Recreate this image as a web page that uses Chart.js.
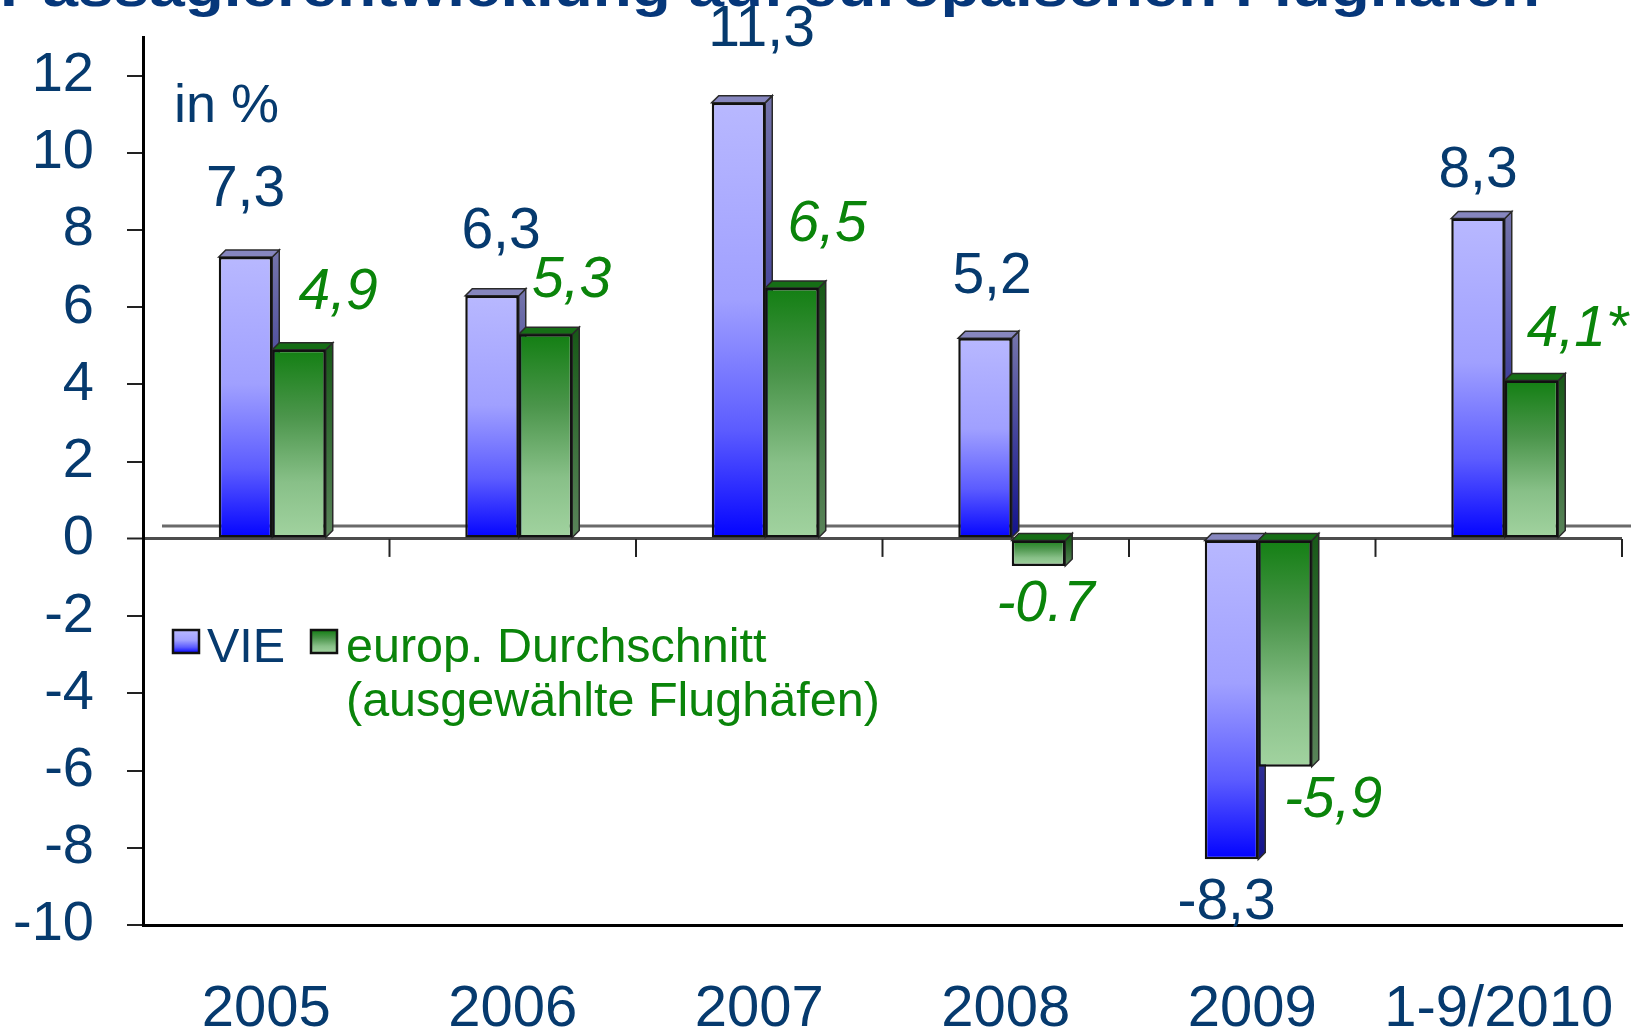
<!DOCTYPE html>
<html>
<head>
<meta charset="utf-8">
<script src="https://cdn.jsdelivr.net/npm/chart.js@4.4.1/dist/chart.umd.min.js"></script>
<style>
  html, body { margin: 0; padding: 0; background: #fff; }
  #wrap { width: 1631px; height: 1032px; position: relative; }
</style>
</head>
<body>
<div id="wrap"><canvas id="paxChart"></canvas></div>
<script>
// values
const categories = ['2005', '2006', '2007', '2008', '2009', '1-9/2010'];
const vieValues = [7.3, 6.3, 11.3, 5.2, -8.3, 8.3];
const europValues = [4.9, 5.3, 6.5, -0.7, -5.9, 4.1];
const vieLabels = ['7,3', '6,3', '11,3', '5,2', '-8,3', '8,3'];
const europLabels = ['4,9', '5,3', '6,5', '-0.7', '-5,9', '4,1*'];
const yTickValues = [-10, -8, -6, -4, -2, 0, 2, 4, 6, 8, 10, 12];
const seriesNames = ['VIE', 'europ. Durchschnitt', '(ausgewählte Flughäfen)'];
const titleText = 'Passagierentwicklung auf europäischen Flughäfen';
const unitText = 'in %';

// hand placement of the value labels, relative to the bar end
const vieNudge = [[6, -67], [15, -63], [29, -72], [13, -61], [1, 44], [6, -47]];
const europNudge = [[45, -57], [32, -53], [41, -63], [13, 39], [54, 34], [52, -50]];

const NAVY = '#063a6e';
const GREEN = '#0a840a';
const FONT = '"Liberation Sans", Arial, sans-serif';
const DEPTH = 7;
const SHIFT = 6; // bars sit a bit right of the category centre (3D projection)

const vieStops = [[0, '#b8b8ff'], [0.45, '#a0a0ff'], [0.75, '#5c5cff'], [1, '#0202ff']];
const vieSideStops = [[0, '#7272aa'], [1, '#12128c']];
const europStops = [[0, '#137f13'], [0.35, '#4b954b'], [0.7, '#88c088'], [1, '#a2d3a0']];
const europSideStops = [[0, '#195a19'], [1, '#5a845a']];

function linGrad(ctx, y1, y2, stops) {
  const g = ctx.createLinearGradient(0, y1, 0, y2);
  stops.forEach(s => g.addColorStop(s[0], s[1]));
  return g;
}

function frontFill(stops) {
  return function(c) {
    const chart = c.chart;
    const ys = chart.scales.y;
    if (c.type !== 'data' || !ys || !chart.chartArea) return stops[stops.length - 1][1];
    const v = c.raw;
    const y1 = ys.getPixelForValue(Math.max(v, 0));
    const y2 = ys.getPixelForValue(Math.min(v, 0));
    if (!isFinite(y1) || !isFinite(y2) || y1 === y2) return stops[0][1];
    return linGrad(chart.ctx, y1, y2, stops);
  };
}

// floor lines, 3D sides/tops of bars
const depthPlugin = {
  id: 'depth',
  beforeDatasetsDraw(chart) {
    const ctx = chart.ctx;
    const xs = chart.scales.x, ys = chart.scales.y;
    const y0 = ys.getPixelForValue(0);
    ctx.save();
    // back edge of the floor
    ctx.strokeStyle = '#6a6a6a';
    ctx.lineWidth = 3;
    ctx.beginPath();
    ctx.moveTo(chart.chartArea.left + 19, y0 - 13);
    ctx.lineTo(chart.width, y0 - 13);
    ctx.stroke();
    // small category marks under the zero line
    ctx.strokeStyle = '#222';
    ctx.lineWidth = 2;
    for (let i = 0; i < categories.length; i++) {
      const bx = i < categories.length - 1
        ? (xs.getPixelForTick(i) + xs.getPixelForTick(i + 1)) / 2
        : chart.chartArea.right;
      ctx.beginPath();
      ctx.moveTo(bx, y0);
      ctx.lineTo(bx, y0 + 18);
      ctx.stroke();
    }
    ctx.restore();

    // everything bar-related is drawn shifted; restored in afterDatasetsDraw
    ctx.save();
    ctx.translate(SHIFT, 0);
    const looks = [
      { side: vieSideStops, top: '#8686be' },
      { side: europSideStops, top: '#166e16' }
    ];
    [0, 1].forEach(di => {
      const meta = chart.getDatasetMeta(di);
      meta.data.forEach(el => {
        const w = el.width;
        const left = el.x - w / 2, right = el.x + w / 2;
        const top = Math.min(el.y, el.base), bottom = Math.max(el.y, el.base);
        ctx.lineWidth = 1.5;
        ctx.strokeStyle = '#2a2a2a';
        ctx.fillStyle = linGrad(ctx, top, bottom, looks[di].side);
        ctx.beginPath();
        ctx.moveTo(right, top);
        ctx.lineTo(right + DEPTH, top - DEPTH);
        ctx.lineTo(right + DEPTH, bottom - DEPTH);
        ctx.lineTo(right, bottom);
        ctx.closePath();
        ctx.fill();
        ctx.stroke();
        ctx.fillStyle = looks[di].top;
        ctx.beginPath();
        ctx.moveTo(left, top);
        ctx.lineTo(left + DEPTH, top - DEPTH);
        ctx.lineTo(right + DEPTH, top - DEPTH);
        ctx.lineTo(right, top);
        ctx.closePath();
        ctx.fill();
        ctx.stroke();
      });
    });
  },
  afterDatasetsDraw(chart) {
    chart.ctx.restore();
  }
};

// value labels, legend, unit and the cut title
const textPlugin = {
  id: 'texts',
  afterDraw(chart) {
    const ctx = chart.ctx;
    ctx.save();
    ctx.textAlign = 'center';
    ctx.textBaseline = 'middle';
    ctx.font = '57px ' + FONT;
    ctx.fillStyle = NAVY;
    chart.getDatasetMeta(0).data.forEach((el, i) => {
      ctx.fillText(vieLabels[i], el.x + vieNudge[i][0], el.y + vieNudge[i][1]);
    });
    ctx.font = 'italic 57px ' + FONT;
    ctx.fillStyle = GREEN;
    chart.getDatasetMeta(1).data.forEach((el, i) => {
      ctx.fillText(europLabels[i], el.x + europNudge[i][0], el.y + europNudge[i][1]);
    });

    // unit
    ctx.textAlign = 'left';
    ctx.textBaseline = 'alphabetic';
    ctx.font = '54px ' + FONT;
    ctx.fillStyle = NAVY;
    ctx.fillText(unitText, 174, 122);

    // legend
    function box(x, y, stops) {
      ctx.fillStyle = linGrad(ctx, y, y + 23, stops);
      ctx.fillRect(x, y, 26, 23);
      ctx.lineWidth = 2.5;
      ctx.strokeStyle = '#111';
      ctx.strokeRect(x, y, 26, 23);
    }
    box(173, 630, vieStops);
    box(311, 630, europStops);
    ctx.font = '48.5px ' + FONT;
    ctx.fillStyle = NAVY;
    ctx.fillText(seriesNames[0], 207, 662);
    ctx.fillStyle = GREEN;
    ctx.fillText(seriesNames[1], 346, 662);
    ctx.fillText(seriesNames[2], 346, 716);

    // title, cut by the top edge
    ctx.font = 'bold 54px ' + FONT;
    ctx.fillStyle = '#06377a';
    const tw = ctx.measureText(titleText).width;
    ctx.translate(0, 6);
    ctx.scale(1540 / tw, 1);
    ctx.fillText(titleText, 0, 0);
    ctx.restore();
  }
};

new Chart(document.getElementById('paxChart'), {
  type: 'bar',
  data: {
    labels: categories,
    datasets: [
      {
        label: seriesNames[0],
        data: vieValues,
        backgroundColor: frontFill(vieStops),
        borderColor: '#111',
        borderWidth: 2.5,
        borderSkipped: false
      },
      {
        label: seriesNames[1],
        data: europValues,
        backgroundColor: frontFill(europStops),
        borderColor: '#111',
        borderWidth: 2.5,
        borderSkipped: false
      }
    ]
  },
  options: {
    responsive: true,
    maintainAspectRatio: false,
    animation: false,
    layout: { padding: { top: 37, right: 9, left: 0, bottom: 0 } },
    datasets: { bar: { categoryPercentage: 0.434, barPercentage: 1 } },
    plugins: {
      legend: { display: false },
      tooltip: { enabled: false },
      title: { display: false }
    },
    scales: {
      x: {
        ticks: {
          color: NAVY,
          font: { family: FONT, size: 58 },
          padding: 50,
          autoSkip: false,
          maxRotation: 0
        },
        grid: { display: false, drawTicks: false },
        border: { display: true, color: '#000', width: 3 },
        afterFit(s) {
          s.height = 107;
          s.paddingLeft = 0;
          s.paddingRight = 0;
        }
      },
      y: {
        min: -10,
        max: 13,
        afterBuildTicks(s) { s.ticks = yTickValues.map(v => ({ value: v })); },
        ticks: {
          color: NAVY,
          font: { family: FONT, size: 56 },
          padding: 33
        },
        grid: {
          color: c => (c.tick && c.tick.value === 0 ? '#4d4d4d' : 'rgba(0,0,0,0)'),
          lineWidth: c => (c.tick && c.tick.value === 0 ? 3 : 0),
          tickColor: '#222',
          tickLength: 16,
          tickWidth: 2
        },
        border: { display: true, color: '#000', width: 3 },
        afterFit(s) {
          s.width = 143;
          s.paddingTop = 0;
          s.paddingBottom = 0;
        }
      }
    }
  },
  plugins: [depthPlugin, textPlugin]
});
</script>
</body>
</html>
